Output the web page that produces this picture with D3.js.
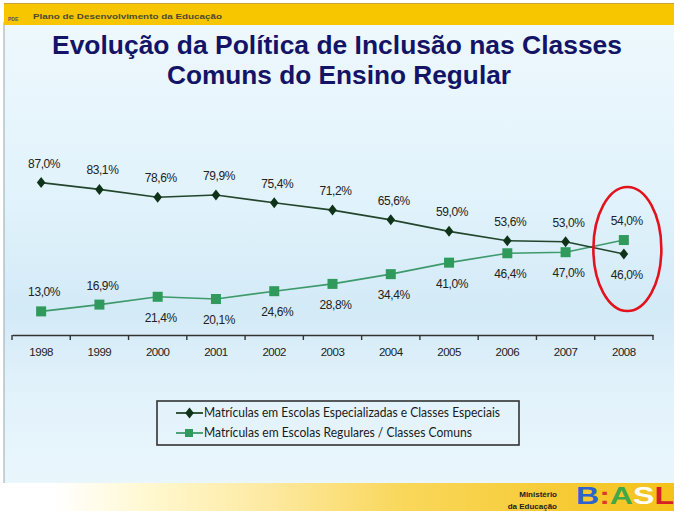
<!DOCTYPE html>
<html><head><meta charset="utf-8">
<script src="https://cdn.jsdelivr.net/npm/d3@7"></script>
<style>
html,body{margin:0;padding:0;background:#fff;}
svg{display:block;}
</style></head>
<body>
<svg id="c" width="674" height="511"></svg>
<script>
const years = ["1998","1999","2000","2001","2002","2003","2004","2005","2006","2007","2008"];
const especiais = [87.0,83.1,78.6,79.9,75.4,71.2,65.6,59.0,53.6,53.0,46.0];
const comuns = [13.0,16.9,21.4,20.1,24.6,28.8,34.4,41.0,46.4,47.0,54.0];
const especiaisLabelSide = ["a","a","a","a","a","a","a","a","a","a","b"];
const comunsLabelSide = ["a","a","b","b","b","b","b","b","b","b","a"];
const seriesNames = ["Matrículas em Escolas Especializadas e Classes Especiais","Matrículas em Escolas Regulares / Classes Comuns"];
const titleLines = ["Evolução da Política de Inclusão nas Classes","Comuns do Ensino Regular"];

const fmt = v => v.toFixed(1).replace(".", ",") + "%";
const svg = d3.select("#c");
const defs = svg.append("defs");

const bg = defs.append("linearGradient").attr("id","bg").attr("x1",0).attr("y1",0).attr("x2",0).attr("y2",1);
[["0%","#eef8fd"],["40%","#e0f2fb"],["62%","#d3eaf7"],["80%","#e2f2fb"],["100%","#e9f6fc"]]
  .forEach(s=>bg.append("stop").attr("offset",s[0]).attr("stop-color",s[1]));
const fb = defs.append("linearGradient").attr("id","fb").attr("x1",0).attr("y1",0).attr("x2",1).attr("y2",0);
[["0%","#ffffff"],["8%","#ffffff"],["22%","#fff8d0"],["40%","#fde9a0"],["60%","#f9d75a"],["100%","#f4c21a"]]
  .forEach(s=>fb.append("stop").attr("offset",s[0]).attr("stop-color",s[1]));

svg.append("rect").attr("x",0).attr("y",0).attr("width",674).attr("height",511).attr("fill","#fff");
svg.append("rect").attr("x",4).attr("y",25).attr("width",670).attr("height",458).attr("fill","url(#bg)");
svg.append("line").attr("x1",4).attr("x2",4).attr("y1",22).attr("y2",483).attr("stroke","#a9b4bb").attr("stroke-width",1.2);

// header bar
svg.append("rect").attr("x",4).attr("y",3).attr("width",670).attr("height",22).attr("fill","#f7c600");
svg.append("line").attr("x1",4).attr("x2",674).attr("y1",3.5).attr("y2",3.5).attr("stroke","#c9a23a").attr("stroke-width",1);
svg.append("text").attr("x",8).attr("y",21).attr("font-family","Liberation Sans, Arial, sans-serif")
  .attr("font-size",5).attr("font-weight","bold").attr("fill","#556").text("PDE");
svg.append("text").attr("x",33).attr("y",18.5).attr("font-family","Liberation Sans, Arial, sans-serif")
  .attr("font-size",8).attr("font-weight","bold").attr("fill","#4a4a30")
  .attr("textLength",189).attr("lengthAdjust","spacingAndGlyphs")
  .text("Plano de Desenvolvimento da Educação");

// footer
svg.append("rect").attr("x",0).attr("y",483).attr("width",674).attr("height",28).attr("fill","url(#fb)");
svg.append("text").attr("x",557).attr("y",497).attr("text-anchor","end").attr("font-family","Liberation Sans, Arial, sans-serif")
  .attr("font-size",8).attr("font-weight","bold").attr("fill","#222").text("Ministério");
svg.append("text").attr("x",557).attr("y",509).attr("text-anchor","end").attr("font-family","Liberation Sans, Arial, sans-serif")
  .attr("font-size",8).attr("font-weight","bold").attr("fill","#222").text("da Educação");
const br = svg.append("text").attr("x",576).attr("y",504).attr("font-family","Liberation Sans, Arial, sans-serif")
  .attr("font-size",23).attr("font-weight","bold").attr("textLength",98).attr("lengthAdjust","spacingAndGlyphs");
[["B","#2c63cf"],[":","#e0392c"],["A","#41a84a"],["S","#ffffff"],["L","#d51f26"]].forEach(t=>br.append("tspan").attr("fill",t[1]).text(t[0]));

// title
const title = svg.append("g").attr("font-family","Liberation Sans, Arial, sans-serif").attr("font-weight","bold")
  .attr("fill","#141466").attr("text-anchor","middle");
title.append("text").attr("x",337).attr("y",54).attr("font-size",26)
  .attr("textLength",570).attr("lengthAdjust","spacingAndGlyphs").text(titleLines[0]);
title.append("text").attr("x",339).attr("y",84).attr("font-size",26)
  .attr("textLength",344).attr("lengthAdjust","spacingAndGlyphs").text(titleLines[1]);

// scales
const x = d3.scaleBand().domain(years).range([12,653]).padding(0);
const y = d3.scaleLinear().domain([0,100]).range([334,160]);
const cx = d => x(d) + x.bandwidth()/2;

// axis
const axisG = svg.append("g").attr("transform","translate(0,335)")
  .call(d3.axisBottom(x).tickSize(0).tickPadding(13));
axisG.select(".domain").attr("stroke","#333").attr("stroke-width",1.6);
axisG.selectAll(".tick text").attr("font-family","Liberation Sans, Arial, sans-serif").attr("font-size",11.5)
  .attr("fill","#222").attr("letter-spacing","-0.5");
const bounds = years.map(d=>x(d)).concat([x.range()[1]]);
axisG.selectAll("line.bt").data(bounds).enter().append("line").attr("class","bt")
  .attr("x1",d=>d).attr("x2",d=>d).attr("y1",0).attr("y2",5).attr("stroke","#333").attr("stroke-width",1.4);

const diamond = "M0,-5.5L4.3,0L0,5.5L-4.3,0Z";
const cEsp = "#0f3318", lEsp = "#23452b";
const cCom = "#2f9a5c", lCom = "#3e9a6b";

const line = d3.line().x((d,i)=>cx(years[i])).y(d=>y(d));
svg.append("path").datum(comuns).attr("d",line).attr("fill","none").attr("stroke",lCom).attr("stroke-width",1.6);
svg.append("path").datum(especiais).attr("d",line).attr("fill","none").attr("stroke",lEsp).attr("stroke-width",1.6);

svg.append("g").selectAll("rect").data(comuns).enter().append("rect")
  .attr("x",(d,i)=>cx(years[i])-5).attr("y",d=>y(d)-5).attr("width",10).attr("height",10).attr("fill",cCom);
svg.append("g").selectAll("path").data(especiais).enter().append("path")
  .attr("d",diamond).attr("transform",(d,i)=>`translate(${cx(years[i])},${y(d)})`).attr("fill",cEsp);

function labels(vals, sides){
  svg.append("g").attr("font-family","Liberation Sans, Arial, sans-serif").attr("font-size",12)
    .attr("fill","#222").attr("text-anchor","middle").attr("letter-spacing","-0.4")
    .selectAll("text").data(vals).enter().append("text")
    .attr("x",(d,i)=>cx(years[i])+3)
    .attr("y",(d,i)=>y(d) + (sides[i]==="a" ? -15 : 25))
    .text(d=>fmt(d));
}
labels(especiais, especiaisLabelSide);
labels(comuns, comunsLabelSide);

// highlight ellipse on last year
svg.append("ellipse").attr("cx",cx("2008")+3.5).attr("cy",y(50)+2).attr("rx",34).attr("ry",62)
  .attr("fill","none").attr("stroke","#e3121c").attr("stroke-width",2.6);

// legend
const lg = svg.append("g");
lg.append("rect").attr("x",157).attr("y",401).attr("width",362).attr("height",44)
  .attr("fill","none").attr("stroke","#333").attr("stroke-width",1.6);
[[lEsp,cEsp,"d"],[lCom,cCom,"s"]].forEach((s,i)=>{
  const yy = 413 + i*20;
  lg.append("line").attr("x1",176).attr("x2",203).attr("y1",yy).attr("y2",yy).attr("stroke",s[0]).attr("stroke-width",1.8);
  if (s[2]==="d") lg.append("path").attr("d",diamond).attr("transform",`translate(189.5,${yy})`).attr("fill",s[1]);
  else lg.append("rect").attr("x",185).attr("y",yy-4).attr("width",8).attr("height",8).attr("fill",s[1]);
  lg.append("text").attr("x",204).attr("y",yy+4).attr("font-family","Lato, 'Open Sans', sans-serif")
    .attr("font-size",12.5).attr("fill","#1a1a1a")
    .attr("textLength", i===0 ? 296 : 268).attr("lengthAdjust","spacingAndGlyphs")
    .text(seriesNames[i]);
});
</script>
</body></html>
